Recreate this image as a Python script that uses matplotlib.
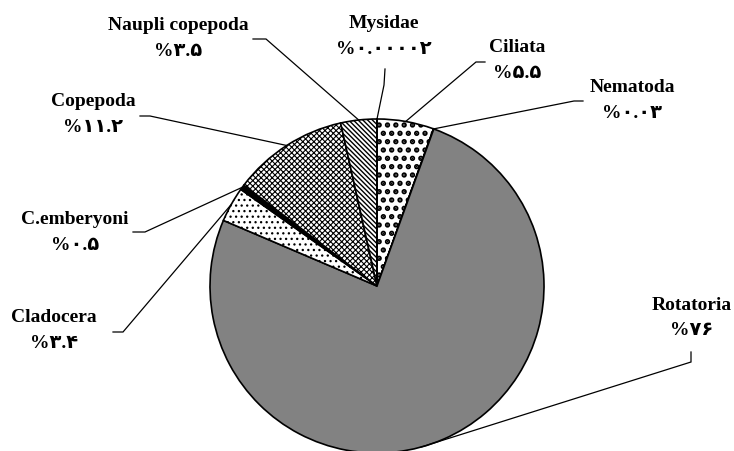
import numpy as np
import matplotlib
matplotlib.use("Agg")
import matplotlib.pyplot as plt

# ---------- data ----------
labels = ["Ciliata", "Nematoda", "Rotatoria", "Cladocera", "C.emberyoni",
          "Copepoda", "Naupli copepoda", "Mysidae"]
values = [5.5, 0.03, 76, 3.4, 0.5, 11.2, 3.5, 0.00002]
# percent labels in Persian digits, as in the original
pct_labels = ["%\u06f5.\u06f5", "%\u06f0.\u06f0\u06f3", "%\u06f7\u06f6", "%\u06f3.\u06f4",
              "%\u06f0.\u06f5", "%\u06f1\u06f1.\u06f2", "%\u06f3.\u06f5",
              "%\u06f0.\u06f0\u06f0\u06f0\u06f0\u06f2"]

# ---------- layout (pixel coords, origin top-left) ----------
W, H = 734, 452
center_px = (377, 287)
radius_px = 167
fills = ["white", "white", "#828282", "white", "black", "white", "white", "white"]
hatches = ["..", None, None, "...", None, "xxxxxx", "\\" * 7, None]
hatch_lw = [2.6, 0.8, 0.8, 0.9, 0.8, 0.8, 1.0, 0.8]
# label text centre (name line), percent line is 26 px lower
text_pos = [(517, 48), (632, 88), (692, 305), (54, 318), (75, 220),
            (93, 101), (178, 25), (384, 23)]
# leader line: text-side end and elbow, then to the wedge
leader = [[(485, 63), (476, 63)], [(583, 102), (574, 102)],
          [(691, 353), (691, 363)], [(113, 333), (123, 333)],
          [(133, 233), (145, 233)], [(140, 117), (150, 117)],
          [(253, 40), (266, 40)], [(385, 70), (384, 86)]]
tip_frac = [0.5, 0.5, 0.47, 0.5, 0.5, 0.5, 0.5, 0.5]

font = dict(family=["Liberation Serif", "DejaVu Sans"], weight="bold", size=14)

def fy(y):
    return H - y

fig = plt.figure(figsize=(W / 100, H / 100), dpi=100)
ax = fig.add_axes([0, 0, 1, 1])

wedges, _ = ax.pie(values, startangle=90, counterclock=False,
                   center=(center_px[0], fy(center_px[1])), radius=radius_px,
                   colors=fills,
                   wedgeprops=dict(edgecolor="black", linewidth=1.2))
for w, h, lw in zip(wedges, hatches, hatch_lw):
    if h:
        w.set_hatch(h)
        if hasattr(w, "set_hatch_linewidth"):
            w.set_hatch_linewidth(lw)

for i, w in enumerate(wedges):
    th = np.deg2rad(w.theta1 + tip_frac[i] * (w.theta2 - w.theta1))
    tx = w.center[0] + w.r * np.cos(th)
    ty = w.center[1] + w.r * np.sin(th)
    (x0, y0), (x1, y1) = leader[i]
    ax.plot([x0, x1, tx], [fy(y0), fy(y1), ty], color="black", lw=0.9,
            solid_joinstyle="miter")
    cx, cy = text_pos[i]
    ax.text(cx, fy(cy), labels[i], ha="center", va="center", **font)
    ax.text(cx, fy(cy + 26), pct_labels[i], ha="center", va="center", **font)

ax.set_xlim(0, W)
ax.set_ylim(0, H)
ax.set_aspect("equal")
ax.axis("off")

fig.savefig("out.png", dpi=100)
